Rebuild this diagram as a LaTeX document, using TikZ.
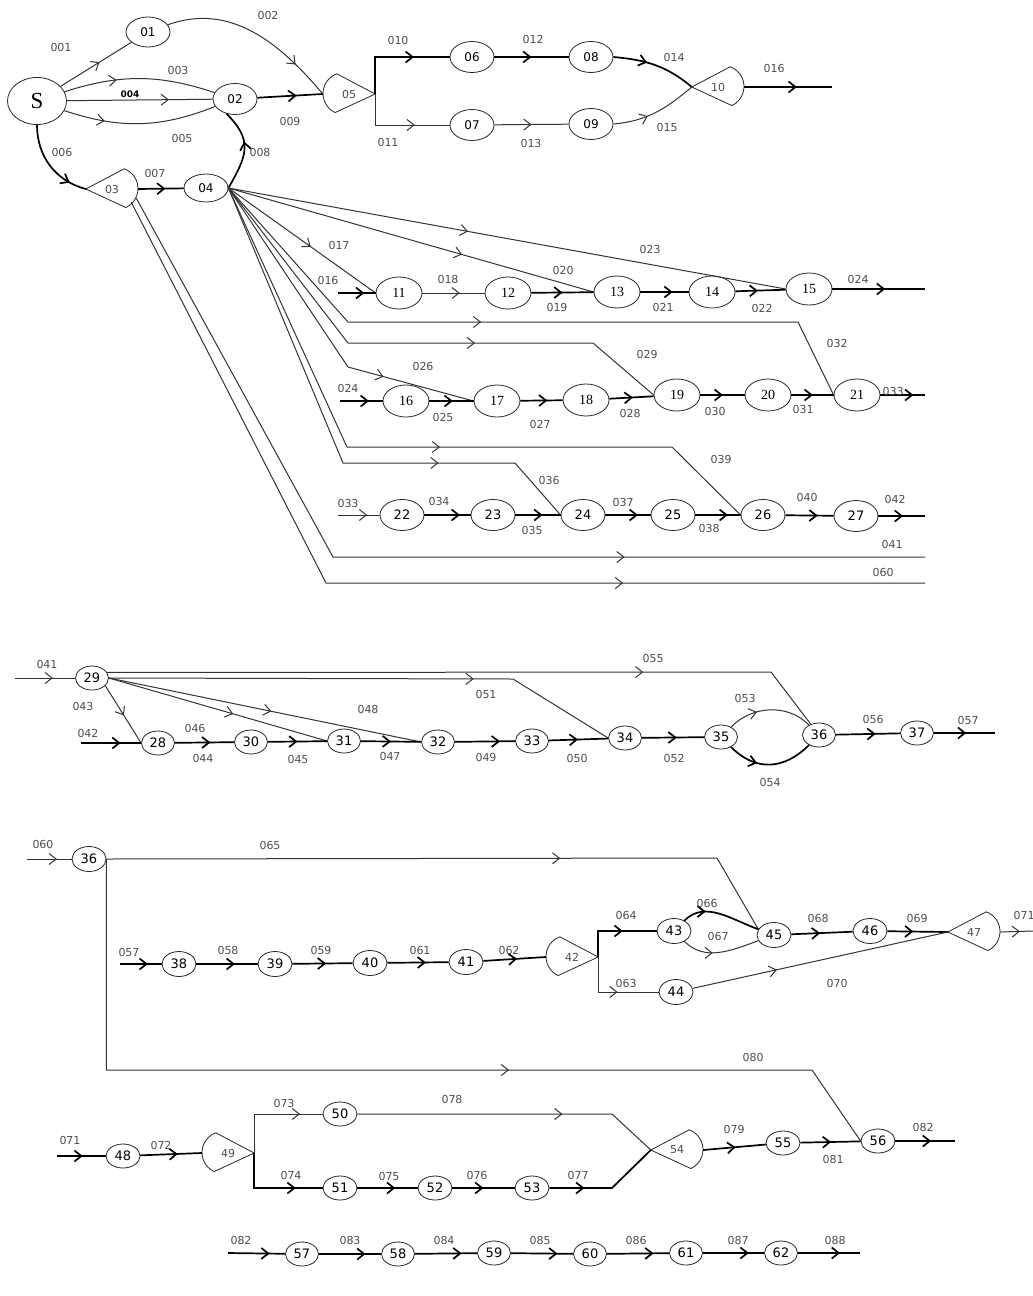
\documentclass[tikz,border=0pt]{standalone}
\usepackage{fontspec}
\setmainfont{Liberation Serif}
\newfontfamily\labfont{DejaVu Sans}
\usepackage{tikz}
\usetikzlibrary{arrows.meta,shapes.geometric,decorations.markings,calc}

\begin{document}
\begin{tikzpicture}[
x=1pt,
y=1pt,
stn/.style={ellipse,draw=black!85,line width=0.8pt,inner sep=0pt,minimum width=44pt,minimum height=31pt,font=\labfont\fontsize{12}{13}\selectfont},
stnser/.style={stn,minimum width=46pt,minimum height=32pt,font=\fontsize{14}{15}\selectfont},
stnsml/.style={stn,minimum width=33pt,minimum height=24pt,font=\labfont\fontsize{13}{14}\selectfont},
gatebox/.style={rectangle,inner sep=0pt,minimum width=52pt,minimum height=40pt,text=black!70,font=\labfont\fontsize{11}{12}\selectfont},
gateline/.style={draw=black!85,line width=0.8pt},
ln/.style={draw=black!80,line width=1pt},
lnb/.style={draw=black,line width=1.7pt},
arr/.style={postaction={decorate},decoration={markings,mark=at position #1 with {\arrow{Straight Barb[length=7pt,width=11pt]}}}},
arr/.default=0.6,
lbl/.style={text=black!70,inner sep=1pt,font=\labfont\fontsize{11}{12}\selectfont}
]
\useasboundingbox (0,0) rectangle (1033,-1296);

% upper network
\node[stn,minimum width=59pt,minimum height=47pt,font=\fontsize{23}{25}\selectfont] (s) at (37,-101) {S};
\node[stn,minimum height=30pt] (n01) at (148,-32) {01};
\node[stn] (n02) at (235,-99) {02};
\node[gatebox] (n03) at (112,-189) {03};
\node[stn,minimum height=28pt] (n04) at (206,-188) {04};
\node[gatebox] (n05) at (349,-94) {05};
\node[stn] (n06) at (472,-57) {06};
\node[stn] (n07) at (472,-125) {07};
\node[stn] (n08) at (591,-57) {08};
\node[stn] (n09) at (591,-124) {09};
\node[gatebox] (n10) at (718,-87) {10};

\node[stnser] (n11) at (399,-293) {11};
\node[stnser] (n12) at (508,-293) {12};
\node[stnser] (n13) at (617,-292) {13};
\node[stnser] (n14) at (712,-292) {14};
\node[stnser] (n15) at (809,-289) {15};

\node[stnser] (n16) at (406,-401) {16};
\node[stnser] (n17) at (497,-401) {17};
\node[stnser] (n18) at (586,-400) {18};
\node[stnser] (n19) at (677,-395) {19};
\node[stnser] (n20) at (768,-395) {20};
\node[stnser] (n21) at (857,-395) {21};

\node[stn,font=\labfont\fontsize{13}{14}\selectfont] (n22) at (402,-515) {22};
\node[stn,font=\labfont\fontsize{13}{14}\selectfont] (n23) at (493,-515) {23};
\node[stn,font=\labfont\fontsize{13}{14}\selectfont] (n24) at (583,-515) {24};
\node[stn,font=\labfont\fontsize{13}{14}\selectfont] (n25) at (673,-515) {25};
\node[stn,font=\labfont\fontsize{13}{14}\selectfont] (n26) at (763,-515) {26};
\node[stn,font=\labfont\fontsize{13}{14}\selectfont] (n27) at (856,-516) {27};

% second block
\node[stnsml] (n29) at (92,-678) {29};
\node[stnsml] (n28) at (158,-743) {28};
\node[stnsml] (n30) at (251,-742) {30};
\node[stnsml] (n31) at (344,-741) {31};
\node[stnsml] (n32) at (438,-742) {32};
\node[stnsml] (n33) at (532,-741) {33};
\node[stnsml] (n34) at (625,-738) {34};
\node[stnsml] (n35) at (721,-737) {35};
\node[stnsml] (n36) at (819,-735) {36};
\node[stnsml] (n37) at (917,-733) {37};

% third block
\node[stnsml,minimum width=34pt,minimum height=25pt] (n36b) at (89,-859) {36};
\node[stnsml,minimum width=34pt,minimum height=25pt] (n38) at (179,-964) {38};
\node[stnsml,minimum width=34pt,minimum height=25pt] (n39) at (275,-964) {39};
\node[stnsml,minimum width=34pt,minimum height=25pt] (n40) at (370,-963) {40};
\node[stnsml,minimum width=34pt,minimum height=25pt] (n41) at (466,-962) {41};
\node[gatebox] (n42) at (572,-957) {42};
\node[stnsml,minimum width=34pt,minimum height=25pt] (n43) at (674,-931) {43};
\node[stnsml,minimum width=34pt,minimum height=25pt] (n44) at (676,-992) {44};
\node[stnsml,minimum width=34pt,minimum height=25pt] (n45) at (774,-935) {45};
\node[stnsml,minimum width=34pt,minimum height=25pt] (n46) at (870,-931) {46};
\node[gatebox] (n47) at (974,-932) {47};

% fourth block
\node[stnsml,minimum width=34pt] (n48) at (123,-1156) {48};
\node[gatebox] (n49) at (228,-1153) {49};
\node[stnsml,minimum width=34pt] (n50) at (340,-1114) {50};
\node[stnsml,minimum width=34pt] (n51) at (340,-1188) {51};
\node[stnsml,minimum width=34pt] (n52) at (435,-1188) {52};
\node[stnsml,minimum width=34pt] (n53) at (532,-1188) {53};
\node[gatebox] (n54) at (677,-1150) {54};
\node[stnsml,minimum width=34pt] (n55) at (783,-1143) {55};
\node[stnsml,minimum width=34pt] (n56) at (878,-1141) {56};

% last chain
\node[stnsml] (n57) at (302,-1254) {57};
\node[stnsml] (n58) at (398,-1254) {58};
\node[stnsml] (n59) at (494,-1253) {59};
\node[stnsml] (n60) at (590,-1254) {60};
\node[stnsml] (n61) at (686,-1253) {61};
\node[stnsml] (n62) at (781,-1253) {62};

% gate outlines
\foreach \g in {n05,n42,n49}
  \draw[gateline] (\g.east) -- ([xshift=14pt]\g.north west) arc[start angle=110,end angle=245,radius=21pt] -- cycle;
\foreach \g in {n03,n10,n47,n54}
  \draw[gateline] (\g.west) -- ([xshift=-14pt]\g.north east) arc[start angle=70,end angle=-65,radius=21pt] -- cycle;

% free ends
\coordinate (o016) at (832,-87);
\coordinate (i016) at (338,-293);
\coordinate (o024) at (925,-289);
\coordinate (i024) at (340,-401);
\coordinate (o033) at (925,-395);
\coordinate (i033) at (338,-515);
\coordinate (o042) at (925,-516);
\coordinate (o041) at (925,-557);
\coordinate (o060) at (925,-583);
\coordinate (i041) at (15,-678);
\coordinate (i042) at (81,-743);
\coordinate (o057) at (995,-733);
\coordinate (i060) at (27,-859);
\coordinate (i057) at (120,-964);
\coordinate (o071) at (1033,-931);
\coordinate (i071) at (57,-1156);
\coordinate (o082) at (955,-1141);
\coordinate (i082) at (228,-1253);
\coordinate (o088) at (860,-1253);

% connectors, upper network
\draw[ln,arr=0.55] (s) -- (n01);
\draw[ln,arr=0.78] (n01) to[out=20,in=130] (n05.west);
\draw[ln,arr=0.35] (s) to[bend left=18] (n02);
\draw[ln,arr=0.7] (s) -- (n02);
\draw[ln,arr=0.27] (s) to[bend right=20] (n02);
\draw[lnb,arr=0.6] (n02) -- (n05.west);
\draw[lnb,arr=0.8] (s.south) to[out=-90,in=165] (n03.west);
\draw[lnb,arr=0.6] (n03.east) -- (n04);
\draw[lnb,arr=0.6] (n04.east) to[out=60,in=-45,looseness=1.3] (n02.-120);
\draw[lnb,arr=0.68] (n05.east) |- (n06);
\draw[ln,arr=0.67] (n05.east) |- (n07);
\draw[lnb,arr=0.5] (n06) -- (n08);
\draw[ln,arr=0.5] (n07) -- (n09);
\draw[lnb,arr=0.4] (n08.east) to[out=-5,in=140] (n10.west);
\draw[ln,arr=0.4] (n09.east) to[out=5,in=-140] (n10.west);
\draw[lnb,arr=0.6] (n10.east) -- (o016);

\draw[ln,arr=0.56] (n04.east) -- (n11.west);
\draw[ln,arr=0.64] (n04.east) -- (n13.west);
\draw[ln,arr=0.43] (n04.east) -- (n15.west);
\draw[ln,arr=0.44] (n04.east) -- (348,-322) -- (798,-322) -- (n21.west);
\draw[ln,arr=0.62] (n04.east) -- (348,-343) -- (593,-343) -- (n19.west);
\draw[ln,arr=0.73] (n04.east) -- (348,-367) -- (n17.west);
\draw[ln,arr=0.535] (n04.east) -- (347,-447) -- (672,-447) -- (n26.west);
\draw[ln,arr=0.73] (n04.east) -- (343,-463) -- (515,-463) -- (n24.west);
\draw[ln,arr=0.7] ([xshift=-2pt,yshift=-9pt]n03.east) -- (333,-557) -- (o041);
\draw[ln,arr=0.706] ([xshift=-7pt,yshift=-13pt]n03.east) -- (326,-583) -- (o060);

\draw[lnb,arr=0.7] (i016) -- (n11);
\draw[ln,arr=0.6] (n11) -- (n12);
\draw[lnb,arr=0.5] (n12) -- (n13);
\draw[lnb,arr=0.67] (n13) -- (n14);
\draw[lnb,arr=0.45] (n14) -- (n15);
\draw[lnb,arr=0.57] (n15) -- (o024);

\draw[lnb,arr=0.68] (i024) -- (n16);
\draw[lnb,arr=0.53] (n16) -- (n17);
\draw[lnb,arr=0.64] (n17) -- (n18);
\draw[lnb,arr=0.53] (n18) -- (n19);
\draw[lnb,arr=0.51] (n19) -- (n20);
\draw[lnb,arr=0.51] (n20) -- (n21);
\draw[lnb,arr=0.74] (n21) -- (o033);

\draw[ln,arr=0.7] (i033) -- (n22);
\draw[lnb,arr=0.77] (n22) -- (n23);
\draw[lnb,arr=0.6] (n23) -- (n24);
\draw[lnb,arr=0.72] (n24) -- (n25);
\draw[lnb,arr=0.72] (n25) -- (n26);
\draw[lnb,arr=0.67] (n26) -- (n27);
\draw[lnb,arr=0.53] (n27) -- (o042);

% connectors, second block
\draw[ln,arr=0.63] (i041) -- (n29);
\draw[ln,arr=0.735] (n29.20) -- (771,-672) -- (n36);
\draw[ln,arr=0.707] (n29.east) -- (513,-679) -- (n34.west);
\draw[ln,arr=0.52] (n29.-30) -- (n28.west);
\draw[lnb,arr=0.66] (i042) -- (n28);
\draw[lnb,arr=0.6] (n28) -- (n30);
\draw[ln,arr=0.57] (n29.east) -- (n31.west);
\draw[ln,arr=0.52] (n29.east) -- (n32.west);
\draw[lnb,arr=0.5] (n30) -- (n31);
\draw[lnb,arr=0.5] (n31) -- (n32);
\draw[lnb,arr=0.75] (n32) -- (n33);
\draw[lnb,arr=0.49] (n33) -- (n34);
\draw[lnb,arr=0.56] (n34) -- (n35);
\draw[ln,arr=0.35] (n35) to[out=45,in=135] (n36);
\draw[lnb,arr=0.35] (n35) to[out=-45,in=-135,looseness=1.15] (n36);
\draw[lnb,arr=0.62] (n36) -- (n37);
\draw[lnb,arr=0.53] (n37) -- (o057);

% connectors, third block
\draw[ln,arr=0.67] (i060) -- (n36b);
\draw[ln,arr=0.655] (n36b.east) -- (717,-858) -- (n45.160);
\draw[ln,arr=0.612] (n36b.east) |- (812,-1070) -- (n56.west);
\draw[lnb,arr=0.67] (i057) -- (n38);
\draw[lnb,arr=0.63] (n38) -- (n39);
\draw[lnb,arr=0.56] (n39) -- (n40);
\draw[lnb,arr=0.63] (n40) -- (n41);
\draw[lnb,arr=0.54] (n41) -- (n42.west);
\draw[lnb,arr=0.6] (n42.east) |- (n43);
\draw[ln,arr=0.57] (n42.east) |- (n44);
\draw[lnb,arr=0.3] (n43) to[out=45,in=160] (n45.160);
\draw[ln,arr=0.4] (n43) to[out=-45,in=-160] (n45);
\draw[lnb,arr=0.47] (n45) -- (n46);
\draw[lnb,arr=0.43] (n46) -- (n47.west);
\draw[ln,arr=0.33] (n44) -- (n47.west);
\draw[ln,arr=0.6] (n47.east) -- (o071);

% connectors, fourth block
\draw[lnb,arr=0.53] (i071) -- (n48);
\draw[lnb,arr=0.61] (n48) -- (n49.west);
\draw[ln,arr=0.79] (n49.east) |- (n50);
\draw[lnb,arr=0.74] (n49.east) |- (n51);
\draw[ln,arr=0.667] (n50) -- (612,-1114) -- (n54.west);
\draw[lnb,arr=0.63] (n51) -- (n52);
\draw[lnb,arr=0.5] (n52) -- (n53);
\draw[lnb,arr=0.3] (n53) -- (612,-1188) -- (n54.west);
\draw[lnb,arr=0.52] (n54.east) -- (n55);
\draw[lnb,arr=0.51] (n55) -- (n56);
\draw[lnb,arr=0.6] (n56) -- (o082);

% connectors, last chain
\draw[lnb,arr=0.73] (i082) -- (n57);
\draw[lnb,arr=0.75] (n57) -- (n58);
\draw[lnb,arr=0.75] (n58) -- (n59);
\draw[lnb,arr=0.75] (n59) -- (n60);
\draw[lnb,arr=0.75] (n60) -- (n61);
\draw[lnb,arr=0.75] (n61) -- (n62);
\draw[lnb,arr=0.68] (n62) -- (o088);

% labels
\node[lbl] (l001) at (61,-47) {001};
\node[lbl] (l002) at (268,-15) {002};
\node[lbl] (l003) at (178,-70) {003};
\node[lbl,text=black,font=\labfont\bfseries\fontsize{9}{10}\selectfont] (l004) at (130,-94) {004};
\node[lbl] (l005) at (182,-138) {005};
\node[lbl] (l006) at (62,-152) {006};
\node[lbl] (l007) at (155,-173) {007};
\node[lbl] (l008) at (260,-152) {008};
\node[lbl] (l009) at (290,-121) {009};
\node[lbl] (l010) at (398,-40) {010};
\node[lbl] (l011) at (388,-142) {011};
\node[lbl] (l012) at (533,-39) {012};
\node[lbl] (l013) at (531,-143) {013};
\node[lbl] (l014) at (674,-57) {014};
\node[lbl] (l015) at (667,-127) {015};
\node[lbl] (l016) at (774,-68) {016};
\node[lbl] (l017) at (339,-245) {017};
\node[lbl] (l016b) at (328,-280) {016};
\node[lbl] (l018) at (448,-279) {018};
\node[lbl] (l019) at (557,-307) {019};
\node[lbl] (l020) at (563,-270) {020};
\node[lbl] (l023) at (650,-249) {023};
\node[lbl] (l021) at (663,-307) {021};
\node[lbl] (l022) at (762,-308) {022};
\node[lbl] (l024) at (858,-279) {024};
\node[lbl] (l032) at (837,-343) {032};
\node[lbl] (l029) at (647,-354) {029};
\node[lbl] (l026) at (423,-366) {026};
\node[lbl] (l024b) at (348,-388) {024};
\node[lbl] (l025) at (443,-417) {025};
\node[lbl] (l027) at (540,-424) {027};
\node[lbl] (l028) at (630,-413) {028};
\node[lbl] (l030) at (715,-411) {030};
\node[lbl] (l031) at (803,-409) {031};
\node[lbl] (l033) at (893,-391) {033};
\node[lbl] (l039) at (721,-459) {039};
\node[lbl] (l036) at (549,-480) {036};
\node[lbl] (l033b) at (348,-503) {033};
\node[lbl] (l034) at (439,-501) {034};
\node[lbl] (l035) at (532,-530) {035};
\node[lbl] (l037) at (623,-502) {037};
\node[lbl] (l038) at (709,-528) {038};
\node[lbl] (l040) at (807,-497) {040};
\node[lbl] (l042) at (895,-499) {042};
\node[lbl] (l041) at (892,-544) {041};
\node[lbl] (l060) at (883,-572) {060};

\node[lbl] (l041b) at (47,-664) {041};
\node[lbl] (l043) at (83,-706) {043};
\node[lbl] (l042b) at (88,-733) {042};
\node[lbl] (l046) at (195,-728) {046};
\node[lbl] (l044) at (203,-758) {044};
\node[lbl] (l045) at (298,-759) {045};
\node[lbl] (l048) at (368,-709) {048};
\node[lbl] (l047) at (390,-756) {047};
\node[lbl] (l049) at (486,-757) {049};
\node[lbl] (l051) at (486,-694) {051};
\node[lbl] (l055) at (653,-658) {055};
\node[lbl] (l050) at (577,-758) {050};
\node[lbl] (l052) at (674,-758) {052};
\node[lbl] (l053) at (745,-698) {053};
\node[lbl] (l054) at (770,-782) {054};
\node[lbl] (l056) at (873,-719) {056};
\node[lbl] (l057) at (968,-720) {057};

\node[lbl] (l060b) at (43,-844) {060};
\node[lbl] (l065) at (270,-845) {065};
\node[lbl] (l057b) at (129,-952) {057};
\node[lbl] (l058) at (228,-950) {058};
\node[lbl] (l059) at (321,-950) {059};
\node[lbl] (l061) at (420,-950) {061};
\node[lbl] (l062) at (509,-950) {062};
\node[lbl] (l064) at (626,-915) {064};
\node[lbl] (l063) at (626,-983) {063};
\node[lbl] (l066) at (707,-903) {066};
\node[lbl] (l067) at (718,-936) {067};
\node[lbl] (l068) at (818,-918) {068};
\node[lbl] (l069) at (917,-918) {069};
\node[lbl] (l070) at (837,-983) {070};
\node[lbl] (l071) at (1024,-915) {071};
\node[lbl] (l080) at (753,-1057) {080};

\node[lbl] (l071b) at (70,-1140) {071};
\node[lbl] (l072) at (161,-1145) {072};
\node[lbl] (l073) at (284,-1103) {073};
\node[lbl] (l074) at (291,-1175) {074};
\node[lbl] (l075) at (389,-1176) {075};
\node[lbl] (l076) at (477,-1175) {076};
\node[lbl] (l078) at (452,-1099) {078};
\node[lbl] (l077) at (578,-1175) {077};
\node[lbl] (l079) at (734,-1129) {079};
\node[lbl] (l081) at (833,-1159) {081};
\node[lbl] (l082) at (923,-1127) {082};

\node[lbl] (l082b) at (241,-1240) {082};
\node[lbl] (l083) at (350,-1240) {083};
\node[lbl] (l084) at (444,-1240) {084};
\node[lbl] (l085) at (540,-1240) {085};
\node[lbl] (l086) at (636,-1240) {086};
\node[lbl] (l087) at (738,-1240) {087};
\node[lbl] (l088) at (835,-1240) {088};
\end{tikzpicture}
\end{document}
